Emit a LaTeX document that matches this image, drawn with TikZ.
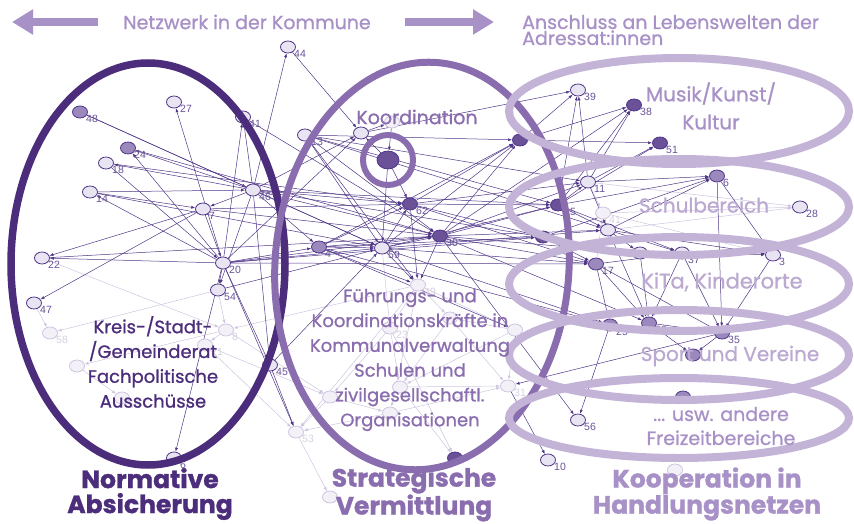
\documentclass[tikz,border=0pt]{standalone}
\usepackage{fontspec}
\setmainfont{Poppins}[BoldFeatures={FakeBold=1.2}]
\newfontfamily\medfont{Poppins}[FakeBold=1]
\newfontfamily\numfont{Liberation Sans}
\usetikzlibrary{shapes.geometric,arrows.meta}
\pgfdeclarelayer{bg}
\pgfsetlayers{bg,main}

\definecolor{darkP}{HTML}{4B2D7B}
\definecolor{midP}{HTML}{8A6DAE}
\definecolor{lightP}{HTML}{C3B3D7}
\definecolor{textP}{HTML}{A891C7}
\definecolor{textL}{HTML}{BBA9D1}
\definecolor{edgeC}{HTML}{4F3587}
\definecolor{fadeE}{HTML}{CEC4E0}
\definecolor{fillDk}{HTML}{6B5198}
\definecolor{fillMd}{HTML}{9B88BD}
\definecolor{fillLt}{HTML}{E9E4F1}
\definecolor{fillFd}{HTML}{F3F0F7}

\begin{document}
\begin{tikzpicture}[x=1pt,y=-1pt,
  nd/.style={ellipse,draw=edgeC,line width=0.8pt,minimum width=15pt,minimum height=12pt,inner sep=0pt},
  dk/.style={nd,fill=fillDk},
  dkbig/.style={nd,fill=fillDk,minimum width=22pt,minimum height=18pt},
  md/.style={nd,fill=fillMd},
  lt/.style={nd,fill=fillLt},
  fd/.style={nd,draw=fadeE,fill=fillFd},
  labnd/.style={font=\numfont\fontsize{10.5}{10.5}\selectfont,text=edgeC!85,inner sep=1pt,label distance=-2pt},
  labdk/.style={labnd}, labdkbig/.style={labnd}, labmd/.style={labnd}, lablt/.style={labnd},
  labfd/.style={labnd,text=fadeE!90!black!60},
  edg/.style={edgeC,line width=0.5pt,-{Latex[length=4pt,width=3pt]}},
  fedg/.style={fadeE,line width=0.5pt,-{Latex[length=4pt,width=3pt]}},
  bigarr/.style={textP,line width=8pt,-{Triangle[length=21pt,width=24pt]}},
  toptxt/.style={text=textP,font=\medfont\fontsize{19}{16}\selectfont,inner sep=0pt},
  ringtxt/.style={font=\medfont\fontsize{18}{24.8}\selectfont,inner sep=0pt,align=center},
  bottxt/.style={font=\bfseries\fontsize{25}{25}\selectfont,inner sep=0pt,align=center}]
\useasboundingbox (0,0) rectangle (854,524);

% --- network nodes (pixel positions)
\foreach \n/\x/\y/\s/\l in {
  44/288/47/lt/44, 48/80/112/md/48, 27/174/102/lt/27, 41/243/117/lt/41,
  24/128/148/md/24, 18/106/163/lt/18, 14/90/192/lt/14, 46/253/190/lt/46,
  7/203/209/lt/7, 22/42/258/lt/22, 20/223/263/lt/20, 54/218/290/lt/54,
  47/34/303/lt/47, 58/50/333/fd/58, 8/226/330/fd/8, 21/205/345/fd/21,
  45/270/365/lt/45, 16/77/366/fd/{}, 55/122/398/fd/55, 6a/174/458/lt/6,
  53/296/432/fd/53, b1/330/497/fd/{},
  13/305/135/lt/13, k1/361/133/lt/{}, k2/392/122/fd/{}, c/388/160/dkbig/{},
  62/410/204/dk/62, 30/440/236/dk/30, 4/319/247/md/4, 59/382/248/lt/59,
  49/418/285/fd/49, 23/390/328/fd/23, m1/450/318/fd/{}, 5/515/330/fd/5,
  m2/400/387/fd/{}, m3/330/397/fd/{}, m4/390/413/fd/{}, 31/508/386/fd/31,
  50/455/458/dk/{}, 56/578/420/lt/56, 10/548/460/lt/10,
  r1/520/140/dk/{}, 39/578/90/lt/39, 38/634/105/dk/38, 51/660/143/dk/51,
  11/588/182/lt/11, 15/558/205/dk/15, 6/717/176/md/6, 28/800/207/lt/28,
  41b/603/213/fd/41, 40/608/230/lt/{}, 19/543/237/dk/{}, r2/640/253/lt/{},
  37/682/253/lt/37, 3/773/255/lt/3, 17/596/264/md/17, 25/610/325/md/25,
  60/649/323/md/60, 35/722/333/md/35, r3/693/355/md/{}, r4/683/397/md/{},
  r5/675/470/fd/{}}
  \node[\s,label={[lab\s]-25:\l}] (n\n) at (\x,\y) {};

\begin{pgfonlayer}{bg}
% --- faded connectors
\foreach \a/\b in {49/23, 49/m1, 23/m2, m1/31, m2/31, m3/53, m4/31, 5/31,
  5/m1, 41b/28, 40/28, 17/41b, 11/41b, 49/8, 49/53, 23/m3, 54/58, 8/16,
  22/8, 21/53, 53/b1, m2/50, 23/50, 49/m4, 54/8, 8/21, 49/5, 59/23, m3/m4,
  16/55, 47/58, 8/m3, m1/m2, 41b/3, 11/28, 5/m2, 21/m3, m4/53}
  \draw[fedg] (n\a) -- (n\b);
% --- dark connectors
\foreach \a/\b in {46/44, 44/k1, 20/27, 46/41, 20/41, 48/46, 46/24, 20/24,
  46/18, 18/20, 14/46, 14/7, 20/14, 7/20, 46/7, 20/22, 7/22, 7/47, 20/54,
  46/54, 20/45, 46/45, 20/6a, 20/k1, 46/k1, k1/k2, c/62, c/59, c/k1, k2/c,
  13/59, 13/30, 13/49, 59/62, 4/62, 46/30, 20/30, 4/30, 59/30, 46/4, 20/4,
  46/59, 20/59, 4/59, 59/49, 30/49, 62/49, 4/49, 30/r1, 59/r1, 62/r1,
  r1/39, r1/38, r1/51, 15/39, 11/39, 15/38, 30/38, 11/38, 15/51, 11/51,
  15/11, 30/11, 30/15, 59/15, 62/15, 15/6, 11/6, 40/6, 19/6, 6/3, 40/3,
  37/3, 40/37, 15/37, 17/37, 30/17, 19/17, 17/25, 59/25, 17/60, 40/60,
  37/60, 30/60, 3/35, 60/35, 37/35, 17/35, 35/r3, 60/r3, 25/56, 30/56,
  31/10, 4/5, 46/19, 7/30, 20/17, 4/19, 59/17, 13/15, 62/11, k1/39, 46/62,
  30/40, 15/40, 11/40, 62/19, 13/r1, 41/30, 24/30, 54/59, 45/53, 20/53,
  13/40, 14/59, 18/62, 30/r2, r2/60, 19/r2, 40/r2, 6/35, 35/31, 45/59,
  7/62, 22/30, 48/59, 46/15, 20/19, 13/11, 4/r1, 59/40, 62/17, 4/25}
  \draw[edg] (n\a) -- (n\b);
\end{pgfonlayer}

% --- group ellipses
\draw[darkP,line width=7.5pt] (148,264) ellipse [x radius=137, y radius=201];
\draw[midP,line width=7pt] (422,266) ellipse [x radius=147, y radius=204, rotate=-4];
\draw[midP,line width=6pt] (nc) circle [radius=25];
\foreach \cy/\ry in {111/53, 207/48, 284/47, 355/45, 418/40}
  \draw[lightP,line width=8pt] (679,\cy) ellipse [x radius=170, y radius=\ry];

% --- top arrows and headings
\coordinate (la1) at (98,22); \coordinate (la2) at (12,22);
\coordinate (ra1) at (405,22); \coordinate (ra2) at (494,22);
\draw[bigarr] (la1) -- (la2);
\draw[bigarr] (ra1) -- (ra2);
\node[toptxt] (netz) at (247,22) {Netzwerk in der Kommune};
\node[toptxt,anchor=west,align=left] (ansch) at (522,30) {Anschluss an Lebenswelten der\\Adressat:innen};

% --- group texts
\node[ringtxt,text=midP,font=\medfont\fontsize{19}{24}\selectfont] (koord) at (417,117) {Koordination};
\node[ringtxt,text=darkP] (kreis) at (153,362) {Kreis-/Stadt-\\/Gemeinderat\\Fachpolitische\\Ausschüsse};
\node[ringtxt,text=midP] (fuehr) at (410,360) {Führungs- und\\Koordinationskräfte in\\Kommunalverwaltung\\Schulen und\\zivilgesellschaftl.\\Organisationen};
\node[ringtxt,text=textP,font=\medfont\fontsize{20}{28}\selectfont] (musik) at (711,106) {Musik/Kunst/\\Kultur};
\node[ringtxt,text=textL,font=\medfont\fontsize{20}{28}\selectfont] (schul) at (704,205) {Schulbereich};
\node[ringtxt,text=textL,font=\medfont\fontsize{21}{28}\selectfont] (kita) at (722,282) {KiTa, Kinderorte};
\node[ringtxt,text=textL,font=\medfont\fontsize{20}{28}\selectfont] (sport) at (730,356) {Sport und Vereine};
\node[ringtxt,text=textP,font=\medfont\fontsize{19}{24}\selectfont] (usw) at (721,426) {... usw. andere\\Freizeitbereiche};

% --- bottom captions
\node[bottxt,text=darkP] (norm) at (150,494) {Normative\\Absicherung};
\node[bottxt,text=midP] (strat) at (414,494) {Strategische\\Vermittlung};
\node[bottxt,text=textP] (koop) at (707,494) {Kooperation in\\Handlungsnetzen};
\end{tikzpicture}
\end{document}
